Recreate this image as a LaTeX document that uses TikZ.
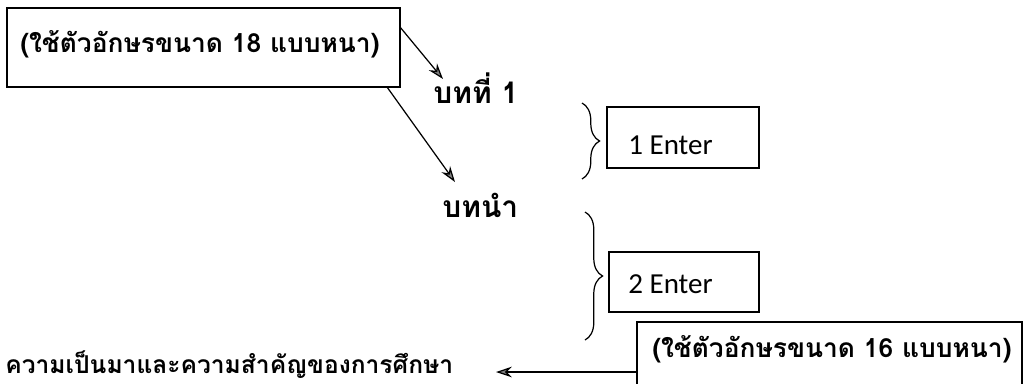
\documentclass[tikz,border=0pt]{standalone}
\usepackage{fontspec}
\newfontfamily\thaifont[Script=Thai]{Loma}
\newfontfamily\enfont{Carlito}
\usetikzlibrary{arrows.meta,decorations.pathreplacing}
\begin{document}
\begin{tikzpicture}[x=0.02cm,y=-0.02cm,
  thai/.style={font=\thaifont\bfseries\fontsize{15}{17}\selectfont, inner sep=0pt},
  head/.style={font=\thaifont\bfseries\fontsize{17}{19}\selectfont, inner sep=0pt},
  en/.style={font=\enfont\fontsize{16.5}{18}\selectfont, inner sep=0pt},
  frame/.style={draw, line width=1pt},
  arr/.style={draw, line width=0.7pt, -{Stealth[length=9pt,width=6pt,fill=gray]}},
  brc/.style={draw, line width=0.7pt, decorate, decoration={brace, amplitude=10pt}}]
\useasboundingbox (0,0) rectangle (1025,383);
% box 1
\node[frame, minimum width=393*0.02cm, minimum height=79*0.02cm, inner sep=0pt] (b1) at (203.5,47.5) {};
\node[thai, anchor=base west] (t1) at (20,52) {(ใช้ตัวอักษรขนาด 18 แบบหนา)};
\node[head, anchor=base west] (ch) at (433,103) {บทที่ 1};
\node[head, anchor=base west] (intro) at (442,217) {บทนำ};
\coordinate (a1s) at (400,27);
\coordinate (a1e) at (443,79);
\coordinate (a2s) at (387,87);
\coordinate (a2e) at (455,182);
\draw[arr] (a1s) -- (a1e);
\draw[arr] (a2s) -- (a2e);
% braces
\coordinate (br1t) at (582,103);
\coordinate (br1b) at (582,179);
\coordinate (br2t) at (585,212);
\coordinate (br2b) at (585,340);
\draw[brc] (br1t) -- (br1b);
\draw[brc] (br2t) -- (br2b);
% enter boxes
\node[frame, minimum width=152*0.02cm, minimum height=61*0.02cm, inner sep=0pt] (e1) at (683,137.5) {};
\node[en, anchor=base west] (e1t) at (628,154) {1 Enter};
\node[frame, minimum width=150*0.02cm, minimum height=60*0.02cm, inner sep=0pt] (e2) at (684,282) {};
\node[en, anchor=base west] (e2t) at (628,293) {2 Enter};
% box 3 (cut at bottom)
\draw[line width=1pt] (637,395) -- (637,322) -- (1022,322) -- (1022,395);
\coordinate (b3l) at (637,372);
\node[thai, anchor=base west] (t3) at (652,357) {(ใช้ตัวอักษรขนาด 16 แบบหนา)};
\node[thai, font=\thaifont\bfseries\fontsize{14}{16}\selectfont, anchor=base west] (bg) at (5,373) {ความเป็นมาและความสำคัญของการศึกษา};
\coordinate (a3e) at (496,372);
\draw[arr] (b3l) -- (a3e);
\end{tikzpicture}
\end{document}
